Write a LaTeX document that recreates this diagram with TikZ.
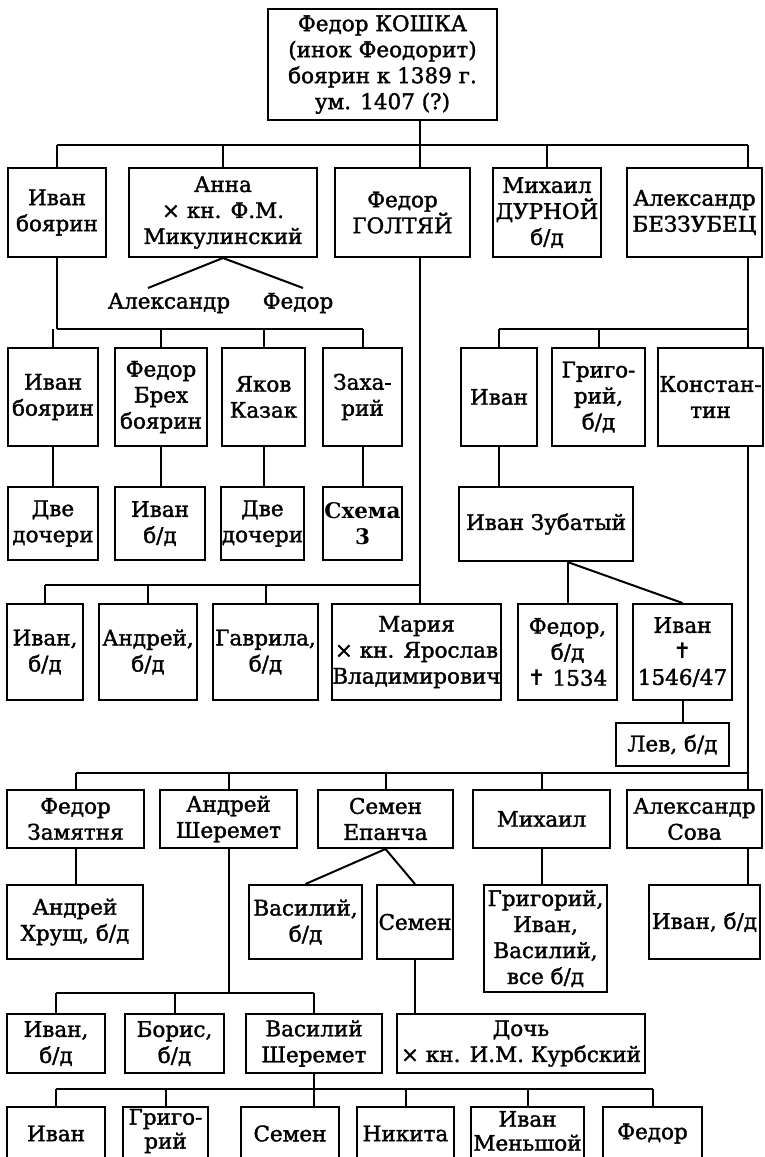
\documentclass[tikz,border=0pt]{standalone}
\usepackage{fontspec}
\setmainfont{DejaVu Serif}[FakeBold=1.6]
\newfontfamily\symf{DejaVu Sans}
\newfontfamily\boldf{DejaVu Serif Bold}
\newcommand{\crs}{{\symf ✝}}
\tikzset{
  box/.style={draw, line width=2pt, inner sep=0pt, align=center, font=\fontsize{21.5}{26}\selectfont},
  ln/.style={line width=2pt},
  lbl/.style={inner sep=0pt, align=center, font=\fontsize{21.5}{26}\selectfont},
  tightlbl/.style={inner sep=0pt, align=center, font=\fontsize{21.5}{24}\selectfont}
}
\newcommand{\bx}[6]{\node[box,minimum width={#4-#2},minimum height={#5-#3}] (#1) at ({(#2+#4)/2},{(#3+#5)/2}) {#6};}
\begin{document}
\begin{tikzpicture}[x=1pt,y=-1pt]
\useasboundingbox (0,0) rectangle (764,1157);
\fill[white] (0,0) rectangle (764,1157);
\clip (0,0) rectangle (764,1157);
% root
\bx{root}{268}{9}{497}{120}{Федор КОШКА\\(инок Феодорит)\\боярин к 1389 г.\\ум. 1407 (?)}
% row 1
\bx{ivanA}{8}{168}{106}{257}{Иван\\боярин}
\bx{anna}{129}{168}{317}{257}{Анна\\× кн. Ф.М.\\Микулинский}
\bx{golt}{335}{168}{470}{257}{Федор\\ГОЛТЯЙ}
\bx{mikh}{493}{168}{601}{257}{Михаил\\ДУРНОЙ\\б/д}
\bx{bez}{627}{168}{762}{257}{Александр\\БЕЗЗУБЕЦ}
\node[lbl] (alex) at (169,303) {Александр};
\node[lbl] (fedL) at (298,303) {Федор};
\coordinate (alexEnd) at (148,288);
\coordinate (fedEnd) at (303,288);
% row 2
\bx{ivanB}{8}{348}{98}{446}{Иван\\боярин}
\bx{breh}{115}{348}{207}{446}{Федор\\Брех\\боярин}
\bx{yakov}{222}{348}{305}{446}{Яков\\Казак}
\bx{zach}{323}{348}{402}{446}{Заха-\\рий}
\bx{ivanR}{461}{348}{537}{446}{Иван}
\bx{grig}{552}{348}{645}{446}{Григо-\\рий,\\б/д}
\bx{konst}{658}{348}{763}{446}{Констан-\\тин}
% row 3
\bx{dve1}{8}{487}{98}{560}{Две\\дочери}
\bx{ivanbd}{115}{487}{205}{560}{Иван\\б/д}
\bx{dve2}{221}{487}{304}{560}{Две\\дочери}
\bx{schema}{323}{487}{402}{560}{\boldf Схема\\\boldf 3}
\bx{zub}{459}{487}{633}{561}{Иван Зубатый}
% row 4
\bx{ivan4}{7}{604}{83}{700}{Иван,\\б/д}
\bx{andr4}{99}{604}{197}{700}{Андрей,\\б/д}
\bx{gavr}{213}{604}{318}{700}{Гаврила,\\б/д}
\bx{maria}{333}{604}{500}{700}{Мария\\× кн. Ярослав\\Владимирович}
\bx{fedbd}{518}{604}{617}{700}{Федор,\\б/д\\\crs{} 1534}
\bx{ivanX}{633}{604}{732}{700}{Иван\\\crs\\1546/47}
\bx{lev}{616}{723}{729}{766}{Лев, б/д}
% row 5
\bx{zam}{7}{790}{144}{848}{Федор\\Замятня}
\bx{sher}{160}{790}{297}{848}{Андрей\\Шеремет}
\bx{epan}{318}{790}{453}{848}{Семен\\Епанча}
\bx{mikh5}{473}{790}{610}{848}{Михаил}
\bx{sova}{627}{790}{762}{848}{Александр\\Сова}
% row 6
\bx{hrush}{7}{885}{143}{959}{Андрей\\Хрущ, б/д}
\bx{vasbd}{249}{885}{362}{959}{Василий,\\б/д}
\bx{semen}{377}{885}{453}{959}{Семен}
\bx{grigset}{484}{885}{607}{992}{Григорий,\\Иван,\\Василий,\\все б/д}
\bx{ivan6}{649}{885}{760}{959}{Иван, б/д}
% row 7
\bx{ivan7}{7}{1014}{105}{1073}{Иван,\\б/д}
\bx{boris}{125}{1014}{224}{1073}{Борис,\\б/д}
\bx{vassh}{246}{1014}{382}{1073}{Василий\\Шеремет}
\bx{doch}{397}{1014}{645}{1073}{Дочь\\× кн. И.М. Курбский}
% row 8
\bx{ivan8}{7}{1107}{105}{1160}{Иван}
\bx{grig8}{123}{1107}{208}{1160}{}
\node[tightlbl] (grig8t) at (165.5,1131) {Григо-\\рий};
\bx{semen8}{241}{1107}{339}{1160}{Семен}
\bx{nik}{357}{1107}{454}{1160}{Никита}
\bx{men}{471}{1107}{584}{1160}{}
\node[tightlbl] (ment) at (527.5,1131) {Иван\\Меньшой};
\bx{fed8}{603}{1107}{702}{1160}{Федор}
% columns and bars
\coordinate (gx) at (420,0);
\coordinate (bx) at (748,0);
\coordinate (r0) at (0,145);
\coordinate (r1) at (0,329);
\coordinate (r4) at (0,585);
\coordinate (r5) at (0,773);
\coordinate (r7) at (0,993);
\coordinate (r8) at (0,1089);
% root -> row 1
\draw[ln] (root.south -| gx) -- (golt.north -| gx);
\draw[ln] (ivanA.north |- r0) -- (bx |- r0);
\foreach \n in {ivanA,anna,mikh} \draw[ln] (\n.north) -- (\n.north |- r0);
\draw[ln] (bx |- r0) -- (bez.north -| bx);
% Anna
\draw[ln] (anna.south) -- (alexEnd);
\draw[ln] (anna.south) -- (fedEnd);
% Ivan boyarin -> row 2
\draw[ln] (ivanA.south) -- (ivanA.south |- r1);
\draw[ln] (ivanA.south |- r1) -- (zach.north |- r1);
\foreach \n in {ivanB,breh,yakov,zach} \draw[ln] (\n.north) -- (\n.north |- r1);
\draw[ln] (ivanB.south) -- (dve1.north -| ivanB.south);
\draw[ln] (breh.south) -- (ivanbd.north -| breh.south);
\draw[ln] (yakov.south) -- (dve2.north -| yakov.south);
\draw[ln] (zach.south) -- (schema.north -| zach.south);
% Bezzubets
\draw[ln] (bez.south -| bx) -- (konst.north -| bx);
\draw[ln] (ivanR.north |- r1) -- (bx |- r1);
\foreach \n in {ivanR,grig} \draw[ln] (\n.north) -- (\n.north |- r1);
\draw[ln] (ivanR.south) -- (ivanR.south |- zub.north);
\draw[ln] (zub.south -| fedbd.north) -- (fedbd.north);
\draw[ln] (zub.south -| fedbd.north) -- (ivanX.north);
\draw[ln] (ivanX.south) -- (ivanX.south |- lev.north);
% Goltyai
\draw[ln] (golt.south -| gx) -- (gx |- r4);
\draw[ln] (ivan4.north |- r4) -- (gx |- r4);
\foreach \n in {ivan4,andr4,gavr} \draw[ln] (\n.north) -- (\n.north |- r4);
\draw[ln] (gx |- r4) -- (maria.north -| gx);
% Konstantin
\draw[ln] (konst.south -| bx) -- (bx |- r5);
\draw[ln] (zam.north |- r5) -- (bx |- r5);
\foreach \n in {zam,sher,epan,mikh5} \draw[ln] (\n.north) -- (\n.north |- r5);
\draw[ln] (bx |- r5) -- (sova.north -| bx);
% row 5 -> row 6
\draw[ln] (zam.south) -- (zam.south |- hrush.north);
\draw[ln] (epan.south) -- (vasbd.north);
\draw[ln] (epan.south) -- (semen.north);
\draw[ln] (mikh5.south) -- (mikh5.south |- grigset.north);
\draw[ln] (sova.south -| bx) -- (ivan6.north -| bx);
% Sheremet
\draw[ln] (sher.south) -- (sher.south |- r7);
\draw[ln] (ivan7.north |- r7) -- (vassh.north |- r7);
\foreach \n in {ivan7,boris,vassh} \draw[ln] (\n.north) -- (\n.north |- r7);
\draw[ln] (semen.south) -- (semen.south |- doch.north);
% Vasilii Sheremet
\draw[ln] (vassh.south) -- (vassh.south |- semen8.north);
\draw[ln] (ivan8.north |- r8) -- (fed8.north |- r8);
\foreach \n in {ivan8,grig8,nik,men,fed8} \draw[ln] (\n.north) -- (\n.north |- r8);
\end{tikzpicture}
\end{document}
